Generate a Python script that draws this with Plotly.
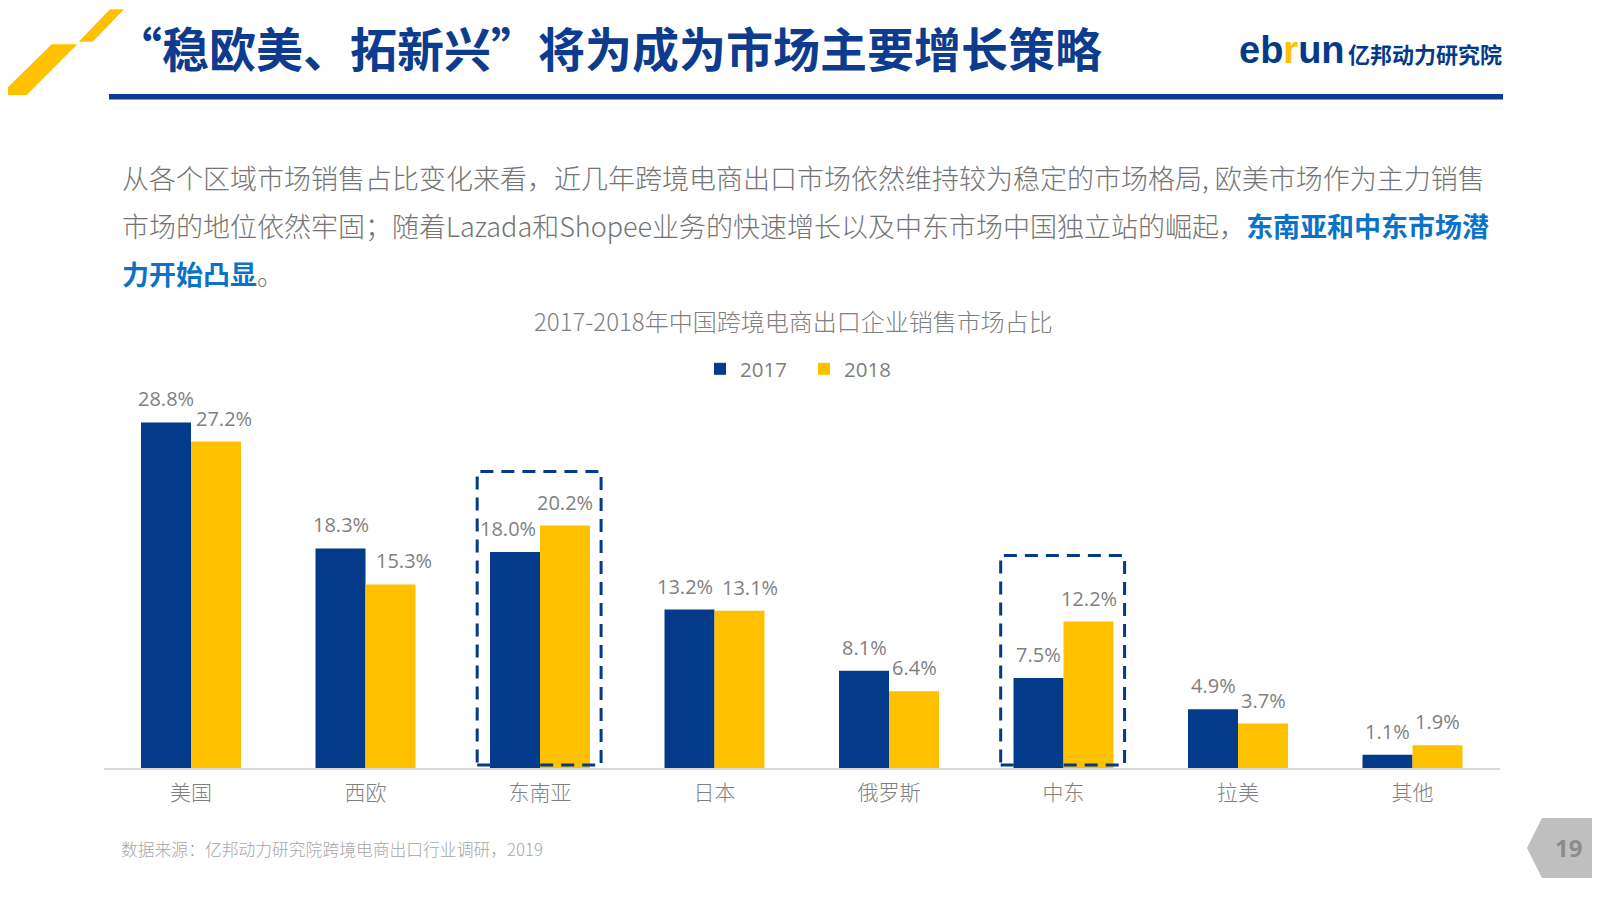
import plotly.graph_objects as go

# ---------------- data ----------------
categories = ["美国", "西欧", "东南亚", "日本", "俄罗斯", "中东", "拉美", "其他"]
share_2017 = [28.8, 18.3, 18.0, 13.2, 8.1, 7.5, 4.9, 1.1]
share_2018 = [27.2, 15.3, 20.2, 13.1, 6.4, 12.2, 3.7, 1.9]
series_names = ["2017", "2018"]
highlight_regions = ["东南亚", "中东"]

chart_title = "2017-2018年中国跨境电商出口企业销售市场占比"
page_title = "“稳欧美、拓新兴”将为成为市场主要增长策略"
para_line1 = "从各个区域市场销售占比变化来看，近几年跨境电商出口市场依然维持较为稳定的市场格局, 欧美市场作为主力销售"
para_line2_a = "市场的地位依然牢固；随着Lazada和Shopee业务的快速增长以及中东市场中国独立站的崛起，"
para_line2_b = "东南亚和中东市场潜"
para_line3_a = "力开始凸显"
para_line3_b = "。"
source_text = "数据来源：亿邦动力研究院跨境电商出口行业调研，2019"
page_no = "19"

# ---------------- style ----------------
OFF = 8                      # page body margin
W, H = 1600 - OFF, 900 - OFF
NAVY = "#033a8a"
YELLOW = "#ffc000"
GREY = "#7f7f7f"
TEXT_GREY = "#747474"
BLUE = "#0b72c9"
CJK = "Noto Sans CJK SC"
LAT = "Open Sans"

def X(px):
    return (px - OFF) / W

def Y(py):
    return 1 - (py - OFF) / H

def path(points):
    return "M " + " L ".join(f"{X(a):.5f},{Y(b):.5f}" for a, b in points) + " Z"

BASE_PX = 768          # baseline of bars
TOP_PX = 408           # top of plot area (y = 30)
X_LEFT_PX, X_RIGHT_PX = 103.75, 1499.75
BAR_HALF = 25          # half a bar width, px
label_nudge = {("美国", 1): 8, ("西欧", 1): 13, ("东南亚", 0): -7,
               ("日本", 0): -5, ("日本", 1): 10}
box_pad = {"东南亚": 4.5, "中东": 5.5}

fig = go.Figure()
for name, vals, col in [(series_names[0], share_2017, NAVY), (series_names[1], share_2018, YELLOW)]:
    fig.add_trace(go.Bar(x=categories, y=vals, name=name, marker=dict(color=col, line=dict(width=0))))

annotations = []
# data labels
for s, vals in enumerate([share_2017, share_2018]):
    for cat, v in zip(categories, vals):
        annotations.append(dict(
            x=cat, y=v, xref="x", yref="y", text=f"{v:.1f}%", showarrow=False,
            xshift=(-BAR_HALF if s == 0 else BAR_HALF) + label_nudge.get((cat, s), 0),
            yshift=8, yanchor="bottom", xanchor="center",
            font=dict(family=LAT, size=20, color=GREY)))

# dashed highlight boxes
shapes = []
for reg in highlight_regions:
    i = categories.index(reg)
    top = max(share_2017[i], share_2018[i]) + box_pad[reg]
    shapes.append(dict(type="rect", xref="x", yref="y", x0=i - 0.36, x1=i + 0.35,
                       y0=0.25, y1=top, line=dict(color=NAVY, width=3, dash="13px,8px"),
                       fillcolor="rgba(0,0,0,0)", layer="above"))

# decorative header shapes
shapes += [
    dict(type="path", xref="paper", yref="paper", path=path([(110, 9.3), (124, 9.3), (92.7, 41.7), (78.7, 41.7)]),
         fillcolor=YELLOW, line=dict(width=0)),
    dict(type="path", xref="paper", yref="paper", path=path([(51.7, 44.3), (77.3, 44.3), (26.7, 95), (0, 95)]),
         fillcolor=YELLOW, line=dict(width=0)),
    dict(type="rect", xref="paper", yref="paper", x0=X(109), x1=X(1503), y0=Y(99.5), y1=Y(94),
         fillcolor="#0d3b8e", line=dict(width=0)),
    dict(type="path", xref="paper", yref="paper",
         path=path([(1527, 848), (1542, 818), (1600, 818), (1600, 878), (1542, 878)]),
         fillcolor="#bfbfbf", line=dict(width=0)),
]

# header texts
annotations += [
    dict(x=X(113), y=Y(47), xref="paper", yref="paper", xanchor="left", yanchor="middle",
         text=page_title, showarrow=False,
         font=dict(family=CJK, size=47, color="#0d3b8e", weight="bold")),
    dict(x=X(1347), y=Y(50), xref="paper", yref="paper", xanchor="right", yanchor="middle",
         text=f"<span style='color:{NAVY}'>eb</span><span style='color:{YELLOW}'>r</span><span style='color:{NAVY}'>un</span>",
         showarrow=False, font=dict(family="Liberation Sans", size=38, color=NAVY, weight="bold")),
    dict(x=X(1346), y=Y(53), xref="paper", yref="paper", xanchor="left", yanchor="middle",
         text="亿邦动力研究院", showarrow=False,
         font=dict(family=CJK, size=22, color=NAVY, weight="bold")),
    dict(x=X(120), y=Y(177.5), xref="paper", yref="paper", xanchor="left", yanchor="middle",
         text=para_line1, showarrow=False, font=dict(family=CJK, size=27, color=TEXT_GREY, weight=300)),
    dict(x=X(120), y=Y(225.5), xref="paper", yref="paper", xanchor="left", yanchor="middle",
         text=para_line2_a + f"<span style='color:{BLUE};font-weight:bold'>{para_line2_b}</span>",
         showarrow=False, font=dict(family=CJK, size=27, color=TEXT_GREY, weight=300)),
    dict(x=X(120), y=Y(273.5), xref="paper", yref="paper", xanchor="left", yanchor="middle",
         text=f"<span style='color:{BLUE};font-weight:bold'>{para_line3_a}</span>" + para_line3_b,
         showarrow=False, font=dict(family=CJK, size=27, color=TEXT_GREY, weight=300)),
    dict(x=X(793), y=Y(320), xref="paper", yref="paper", xanchor="center", yanchor="middle",
         text=chart_title, showarrow=False, font=dict(family=CJK, size=24, color=GREY, weight=300)),
    dict(x=X(119), y=Y(849), xref="paper", yref="paper", xanchor="left", yanchor="middle",
         text=source_text, showarrow=False, font=dict(family=CJK, size=16.8, color="#a6a6a6", weight=300)),
    dict(x=X(1568), y=Y(847), xref="paper", yref="paper", xanchor="center", yanchor="middle",
         text=page_no, showarrow=False, font=dict(family=LAT, size=24, color="#8c8c8c", weight="bold")),
]

fig.update_layout(
    width=W, height=H, margin=dict(l=0, r=0, t=0, b=0, pad=0),
    paper_bgcolor="white", plot_bgcolor="white",
    barmode="group", bargap=0.427, bargroupgap=0,
    showlegend=True,
    legend=dict(orientation="h", x=X(700), xanchor="left", y=Y(369), yanchor="middle",
                font=dict(family=LAT, size=20.5, color=GREY), bgcolor="rgba(0,0,0,0)",
                itemwidth=30, entrywidth=59, traceorder="normal"),
    xaxis=dict(domain=[X(X_LEFT_PX), X(X_RIGHT_PX)], showline=True, linecolor="#d9d9d9", linewidth=1.5,
               showgrid=False, zeroline=False, ticks="", ticklabelstandoff=5,
               tickfont=dict(family=CJK, size=21, color=GREY, weight=300), fixedrange=True),
    yaxis=dict(domain=[Y(BASE_PX), Y(TOP_PX)], range=[0, 30], visible=False, showgrid=False,
               zeroline=False, fixedrange=True),
    shapes=shapes, annotations=annotations,
)

fig.write_html("out.html")
